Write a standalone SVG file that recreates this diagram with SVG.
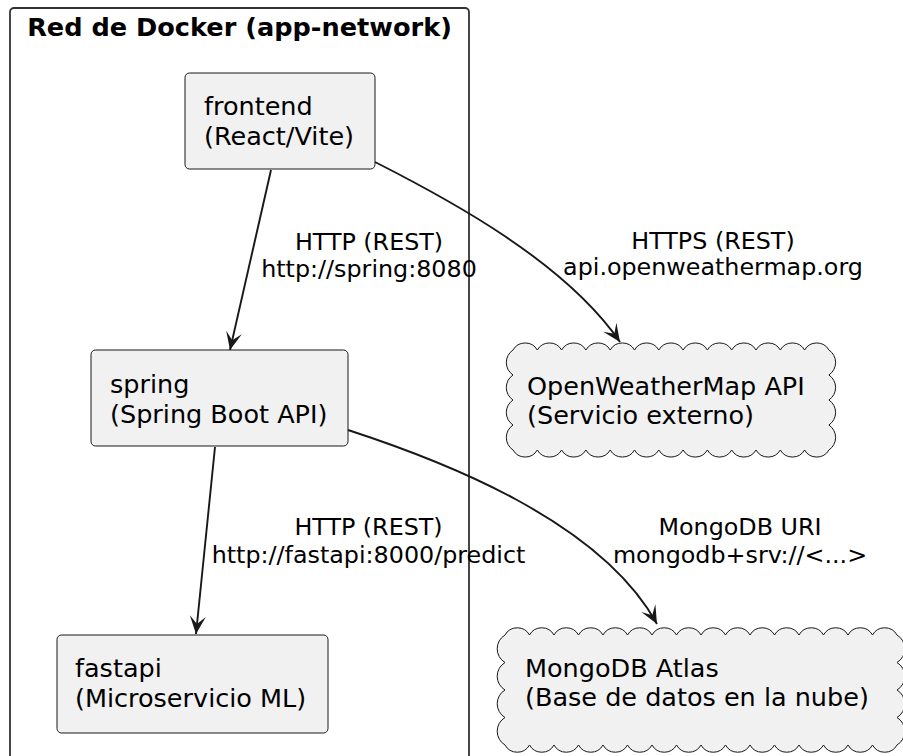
<svg xmlns="http://www.w3.org/2000/svg" width="903" height="756" viewBox="0 0 903 756">
<defs>
<style>
.node{fill:#F1F1F1;stroke:#181818;stroke-width:1}
.ntxt{font-family:"DejaVu Sans",sans-serif;font-size:25.5px;fill:#000}
.etxt{font-family:"DejaVu Sans",sans-serif;font-size:23.8px;fill:#000;text-anchor:middle}
.edge{fill:none;stroke:#181818;stroke-width:1.9;marker-end:url(#ah)}
</style>
<marker id="ah" viewBox="-20 -10 22 20" refX="0" refY="0" markerWidth="22" markerHeight="20" markerUnits="userSpaceOnUse" orient="auto">
<path d="M0,0 L-18,-8 L-10,0 L-18,8 Z" fill="#181818"/>
</marker>
</defs>
<rect x="0" y="0" width="903" height="756" fill="#FFFFFF"/>
<g id="cluster-app-network">
<rect x="10" y="8" width="459" height="780" rx="4" ry="4" fill="none" stroke="#333333" stroke-width="1.8"/>
<text x="239.5" y="36" text-anchor="middle" style="font-family:'DejaVu Sans',sans-serif;font-size:25.6px;font-weight:bold;fill:#000">Red de Docker (app-network)</text>
</g>
<g id="frontend">
<rect class="node" x="185" y="73" width="190" height="96" rx="4.5" ry="4.5"/>
<text class="ntxt" x="204" y="115">frontend</text>
<text class="ntxt" x="204" y="145">(React/Vite)</text>
</g>
<g id="spring">
<rect class="node" x="91" y="350" width="257" height="96" rx="4.5" ry="4.5"/>
<text class="ntxt" x="110" y="393">spring</text>
<text class="ntxt" x="110" y="423">(Spring Boot API)</text>
</g>
<g id="fastapi">
<rect class="node" x="57" y="635" width="271" height="98" rx="4.5" ry="4.5"/>
<text class="ntxt" x="75" y="677">fastapi</text>
<text class="ntxt" x="75" y="707">(Microservicio ML)</text>
</g>
<g id="openweathermap">
<path class="node" d="M513,350 a14,14 0 0 1 24.3,0 a14,14 0 0 1 24.3,0 a14,14 0 0 1 24.3,0 a14,14 0 0 1 24.3,0 a14,14 0 0 1 24.3,0 a14,14 0 0 1 24.3,0 a14,14 0 0 1 24.3,0 a14,14 0 0 1 24.3,0 a14,14 0 0 1 24.3,0 a14,14 0 0 1 24.3,0 a14,14 0 0 1 24.3,0 a14,14 0 0 1 24.3,0 a14,14 0 0 1 24.3,0 a15,15 0 0 1 0,25 a15,15 0 0 1 0,25 a15,15 0 0 1 0,25 a15,15 0 0 1 0,25 a14,14 0 0 1 -24.3,0 a14,14 0 0 1 -24.3,0 a14,14 0 0 1 -24.3,0 a14,14 0 0 1 -24.3,0 a14,14 0 0 1 -24.3,0 a14,14 0 0 1 -24.3,0 a14,14 0 0 1 -24.3,0 a14,14 0 0 1 -24.3,0 a14,14 0 0 1 -24.3,0 a14,14 0 0 1 -24.3,0 a14,14 0 0 1 -24.3,0 a14,14 0 0 1 -24.3,0 a14,14 0 0 1 -24.3,0 a15,15 0 0 1 0,-25 a15,15 0 0 1 0,-25 a15,15 0 0 1 0,-25 a15,15 0 0 1 0,-25 Z"/>
<text class="ntxt" x="527" y="395">OpenWeatherMap API</text>
<text class="ntxt" x="527" y="424">(Servicio externo)</text>
</g>
<g id="mongodb">
<path class="node" d="M505,635 a14,14 0 0 1 24.5,0 a14,14 0 0 1 24.5,0 a14,14 0 0 1 24.5,0 a14,14 0 0 1 24.5,0 a14,14 0 0 1 24.5,0 a14,14 0 0 1 24.5,0 a14,14 0 0 1 24.5,0 a14,14 0 0 1 24.5,0 a14,14 0 0 1 24.5,0 a14,14 0 0 1 24.5,0 a14,14 0 0 1 24.5,0 a14,14 0 0 1 24.5,0 a14,14 0 0 1 24.5,0 a14,14 0 0 1 24.5,0 a14,14 0 0 1 24.5,0 a14,14 0 0 1 24.5,0 a16,16 0 0 1 0,27.5 a16,16 0 0 1 0,27.5 a16,16 0 0 1 0,27.5 a16,16 0 0 1 0,27.5 a14,14 0 0 1 -24.5,0 a14,14 0 0 1 -24.5,0 a14,14 0 0 1 -24.5,0 a14,14 0 0 1 -24.5,0 a14,14 0 0 1 -24.5,0 a14,14 0 0 1 -24.5,0 a14,14 0 0 1 -24.5,0 a14,14 0 0 1 -24.5,0 a14,14 0 0 1 -24.5,0 a14,14 0 0 1 -24.5,0 a14,14 0 0 1 -24.5,0 a14,14 0 0 1 -24.5,0 a14,14 0 0 1 -24.5,0 a14,14 0 0 1 -24.5,0 a14,14 0 0 1 -24.5,0 a14,14 0 0 1 -24.5,0 a16,16 0 0 1 0,-27.5 a16,16 0 0 1 0,-27.5 a16,16 0 0 1 0,-27.5 a16,16 0 0 1 0,-27.5 Z"/>
<text class="ntxt" x="525" y="677">MongoDB Atlas</text>
<text class="ntxt" x="525" y="706">(Base de datos en la nube)</text>
</g>
<g id="connectors">
<path class="edge" d="M271,170 L230,350"/>
<text class="etxt" x="369" y="250">HTTP (REST)</text>
<text class="etxt" x="369" y="277">http://spring:8080</text>
<path class="edge" d="M215,447 L196,634"/>
<text class="etxt" x="368.5" y="535">HTTP (REST)</text>
<text class="etxt" x="368.5" y="563">http://fastapi:8000/predict</text>
<path class="edge" d="M375,162 C450,200 565,262 620,342"/>
<text class="etxt" x="713" y="249">HTTPS (REST)</text>
<text class="etxt" x="713" y="275">api.openweathermap.org</text>
<path class="edge" d="M348,430 C440,460 600,520 657,624"/>
<text class="etxt" x="740" y="535">MongoDB URI</text>
<text class="etxt" x="740" y="563">mongodb+srv://&lt;...&gt;</text>
</g>
</svg>
